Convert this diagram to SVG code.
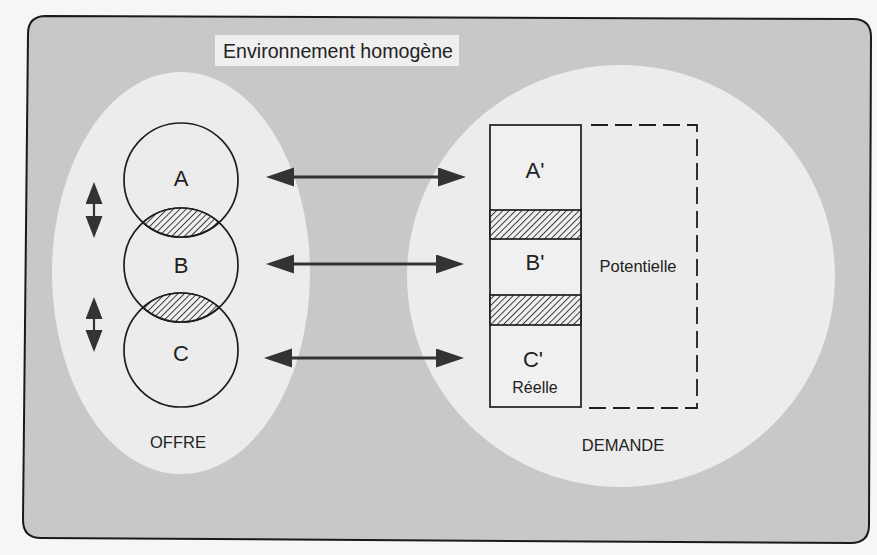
<svg xmlns="http://www.w3.org/2000/svg" width="877" height="555" viewBox="0 0 877 555">
<defs>
<style>
.t{font-family:"Liberation Sans",Arial,sans-serif;fill:#222;text-anchor:middle}
.c{fill:none;stroke:#1e1e1e;stroke-width:1.7}
.r{stroke:#1e1e1e;stroke-width:1.7}
.d{fill:none;stroke:#1e1e1e;stroke-width:1.8;stroke-dasharray:17 7}
.h{fill:url(#hatch);stroke:#1e1e1e;stroke-width:1.7}
.ar{stroke:#333;stroke-width:3;fill:none;marker-start:url(#ah);marker-end:url(#ah)}
.av{stroke:#333;stroke-width:2.2;fill:none;marker-start:url(#ahv);marker-end:url(#ahv)}
</style>
<pattern id="hatch" width="4.5" height="4.5" patternUnits="userSpaceOnUse" patternTransform="rotate(45)">
<rect width="4.5" height="4.5" fill="#f0f0f0"/>
<line x1="0.5" y1="0" x2="0.5" y2="4.5" stroke="#2a2a2a" stroke-width="0.9"/>
</pattern>
<marker id="ah" markerUnits="userSpaceOnUse" markerWidth="28" markerHeight="20" refX="8" refY="9.5" orient="auto-start-reverse">
<path d="M0,0 L28,9.5 L0,19 Z" fill="#333"/>
</marker>
<marker id="ahv" markerUnits="userSpaceOnUse" markerWidth="22" markerHeight="18" refX="6" refY="8.5" orient="auto-start-reverse">
<path d="M0,0 L22,8.5 L0,17 Z" fill="#333"/>
</marker>
</defs>
<rect width="877" height="555" fill="#f6f6f6"/>
<g id="frame">
<path d="M46,16 L853,19 Q871,19 871,37 L869,525 Q869,543 851,543 L41,538 Q23,538 23,520 L28,34 Q28,16 46,16 Z" fill="#c8c8c8" stroke="#1a1a1a" stroke-width="2"/>
</g>
<g id="title">
<rect x="215" y="35" width="244" height="31" fill="#efefef"/>
<text class="t" x="223" y="58" font-size="20.5" style="text-anchor:start" textLength="230" lengthAdjust="spacingAndGlyphs">Environnement homogène</text>
</g>
<g id="offre">
<ellipse cx="181" cy="273" rx="129" ry="201" fill="#ececec"/>
<text class="t" x="178" y="448" font-size="16.5">OFFRE</text>
</g>
<g id="demande">
<ellipse cx="621" cy="276" rx="214" ry="211" fill="#ececec"/>
<text class="t" x="623" y="451" font-size="16.5">DEMANDE</text>
</g>
<g id="circleA">
<circle class="c" cx="181" cy="180" r="57"/>
<text class="t" x="181" y="186" font-size="22">A</text>
</g>
<g id="circleB">
<circle class="c" cx="181" cy="265" r="57"/>
<text class="t" x="181" y="273" font-size="22">B</text>
</g>
<g id="circleC">
<circle class="c" cx="181" cy="350" r="57"/>
<text class="t" x="181" y="361" font-size="22">C</text>
</g>
<g id="lenses">
<path class="h" d="M143,222.5 A57,57 0 0 1 219,222.5 A57,57 0 0 1 143,222.5 Z"/>
<path class="h" d="M143,307.5 A57,57 0 0 1 219,307.5 A57,57 0 0 1 143,307.5 Z"/>
</g>
<g id="demandBox">
<rect x="490" y="125" width="91" height="282" fill="#f0f0f0" class="r"/>
<rect class="h" x="490" y="210" width="91" height="29"/>
<rect class="h" x="490" y="295" width="91" height="30"/>
<text class="t" x="535" y="178" font-size="22">A'</text>
<text class="t" x="535" y="270" font-size="22">B'</text>
<text class="t" x="533" y="367" font-size="22">C'</text>
<text class="t" x="535" y="393" font-size="16">Réelle</text>
</g>
<g id="potentielle">
<path class="d" d="M591,125 L697,125 L697,408 L588,408"/>
<text class="t" x="638" y="272" font-size="16.5">Potentielle</text>
</g>
<g id="connectors">
<line class="ar" x1="286" y1="177" x2="446" y2="177"/>
<line class="ar" x1="286" y1="264" x2="444" y2="264"/>
<line class="ar" x1="284" y1="358" x2="444" y2="358"/>
<line class="av" x1="94" y1="198" x2="94" y2="222"/>
<line class="av" x1="94" y1="313" x2="94" y2="336"/>
</g>
</svg>
